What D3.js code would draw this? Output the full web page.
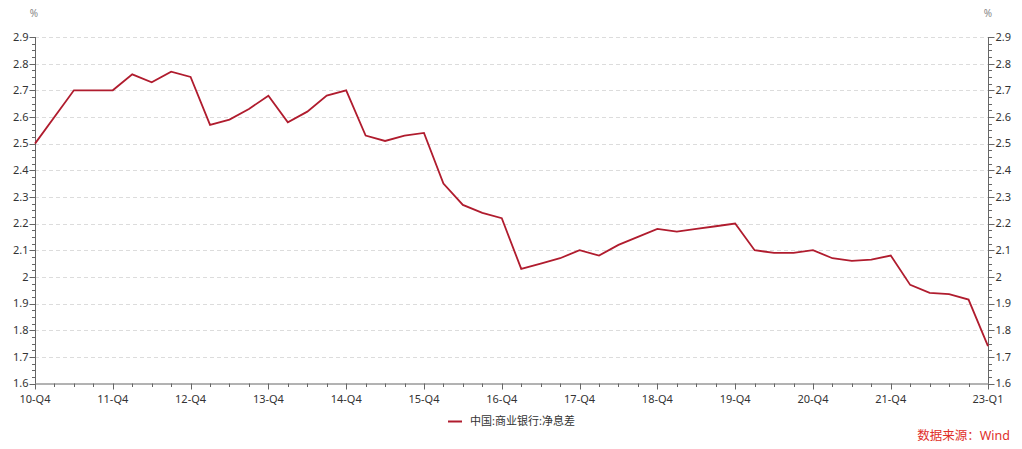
<!DOCTYPE html>
<html><head><meta charset="utf-8">
<script src="https://cdn.jsdelivr.net/npm/d3@7"></script>
<style>
body{margin:0;background:#fff;}
svg{display:block;font-family:"Noto Sans","Noto Sans CJK SC",sans-serif;}
</style></head>
<body><svg id="c" width="1022" height="449"></svg>
<script>
const quarters = ["10-Q4","11-Q2","11-Q3","11-Q4","12-Q1","12-Q2","12-Q3","12-Q4","13-Q1","13-Q2","13-Q3","13-Q4","14-Q1","14-Q2","14-Q3","14-Q4","15-Q1","15-Q2","15-Q3","15-Q4","16-Q1","16-Q2","16-Q3","16-Q4","17-Q1","17-Q2","17-Q3","17-Q4","18-Q1","18-Q2","18-Q3","18-Q4","19-Q1","19-Q2","19-Q3","19-Q4","20-Q1","20-Q2","20-Q3","20-Q4","21-Q1","21-Q2","21-Q3","21-Q4","22-Q1","22-Q2","22-Q3","22-Q4","23-Q1"];
const nim = [2.50,2.70,2.70,2.70,2.76,2.73,2.77,2.75,2.57,2.59,2.63,2.68,2.58,2.62,2.68,2.70,2.53,2.51,2.53,2.54,2.35,2.27,2.24,2.22,2.03,2.05,2.07,2.10,2.08,2.12,2.15,2.18,2.17,2.18,2.19,2.20,2.10,2.09,2.09,2.10,2.07,2.06,2.065,2.08,1.97,1.94,1.935,1.915,1.74];
const xTickLabels = ["10-Q4","11-Q4","12-Q4","13-Q4","14-Q4","15-Q4","16-Q4","17-Q4","18-Q4","19-Q4","20-Q4","21-Q4","23-Q1"];
const yTicks = [1.6,1.7,1.8,1.9,2.0,2.1,2.2,2.3,2.4,2.5,2.6,2.7,2.8,2.9];
const seriesName = "中国:商业银行:净息差";
const sourceText = "数据来源：Wind";

const qIndex = s => { const [y,q] = s.split("-Q"); return (+y)*4 + (+q); };
const svg = d3.select("#c");
const L = 35, R = 988, T = 37, B = 383.5;
const x = d3.scaleLinear().domain([qIndex(quarters[0]), qIndex(quarters[quarters.length-1])]).range([L, R]);
const y = d3.scaleLinear().domain([1.6, 2.9]).range([B, T]);
const fmt = d => String(+d.toFixed(1));
const txt = "#333";

// gridlines
svg.append("g").selectAll("line").data(yTicks.filter(d => d > 1.6)).join("line")
  .attr("x1", L).attr("x2", R).attr("y1", d => Math.round(y(d)) + 0.5).attr("y2", d => Math.round(y(d)) + 0.5)
  .attr("stroke", "#dcdcdc").attr("stroke-dasharray", "4,3").attr("stroke-width", 1);

// minor y ticks
const minor = d3.range(0, 53).map(i => 1.6 + i * 0.025);
function yAxis(xPos, dir) {
  const g = svg.append("g");
  g.append("line").attr("x1", xPos).attr("x2", xPos).attr("y1", T).attr("y2", B).attr("stroke", "#666");
  g.selectAll(".mn").data(minor).join("line")
    .attr("x1", xPos).attr("x2", xPos + dir * 3.5)
    .attr("y1", d => Math.round(y(d)) + 0.5).attr("y2", d => Math.round(y(d)) + 0.5).attr("stroke", "#666");
  g.selectAll(".mj").data(yTicks).join("line")
    .attr("x1", xPos).attr("x2", xPos + dir * 6)
    .attr("y1", d => Math.round(y(d)) + 0.5).attr("y2", d => Math.round(y(d)) + 0.5).attr("stroke", "#666");
  g.selectAll("text").data(yTicks).join("text")
    .attr("x", xPos + dir * 7).attr("y", d => y(d)).attr("dy", "0.35em")
    .attr("text-anchor", dir < 0 ? "end" : "start")
    .attr("font-size", 11).attr("fill", txt).text(fmt);
}
yAxis(L + 0.5, -1);
yAxis(R + 0.5, 1);

// x axis
const gx = svg.append("g");
gx.append("line").attr("x1", L).attr("x2", R + 0.5).attr("y1", B + 0.5).attr("y2", B + 0.5).attr("stroke", "#666");
const allQ = d3.range(qIndex(quarters[0]), qIndex(quarters[quarters.length-1]) + 1);
const labeledIdx = xTickLabels.map(qIndex);
gx.selectAll(".mq").data(allQ).join("line")
  .attr("x1", d => Math.round(x(d)) + 0.5).attr("x2", d => Math.round(x(d)) + 0.5)
  .attr("y1", B).attr("y2", d => B + (labeledIdx.includes(d) ? 6 : 3.5)).attr("stroke", "#666");
gx.selectAll("text").data(xTickLabels).join("text")
  .attr("x", d => x(qIndex(d))).attr("y", 399).attr("dy", "0.35em")
  .attr("text-anchor", "middle").attr("font-size", 11).attr("fill", txt).text(d => d);

// units
svg.append("text").attr("x", 34).attr("y", 13).attr("dy", "0.35em").attr("text-anchor", "middle")
  .attr("font-size", 10).attr("fill", "#888").text("%");
svg.append("text").attr("x", 988).attr("y", 13).attr("dy", "0.35em").attr("text-anchor", "middle")
  .attr("font-size", 10).attr("fill", "#888").text("%");

// line
const lineColor = "#b01c2e";
svg.append("path").datum(quarters.map((q, i) => [qIndex(q), nim[i]]))
  .attr("fill", "none").attr("stroke", lineColor).attr("stroke-width", 1.8).attr("stroke-linejoin", "miter")
  .attr("d", d3.line().x(d => x(d[0])).y(d => y(d[1])));

// legend
svg.append("line").attr("x1", 448).attr("x2", 462).attr("y1", 421.5).attr("y2", 421.5)
  .attr("stroke", lineColor).attr("stroke-width", 2);
svg.append("text").attr("x", 470).attr("y", 421.5).attr("dy", "0.35em")
  .attr("font-size", 11).attr("fill", txt).text(seriesName);

// source
svg.append("text").attr("x", 1010).attr("y", 436).attr("dy", "0.35em").attr("text-anchor", "end")
  .attr("font-size", 12.5).attr("fill", "#e0302a").text(sourceText);
</script></body></html>
